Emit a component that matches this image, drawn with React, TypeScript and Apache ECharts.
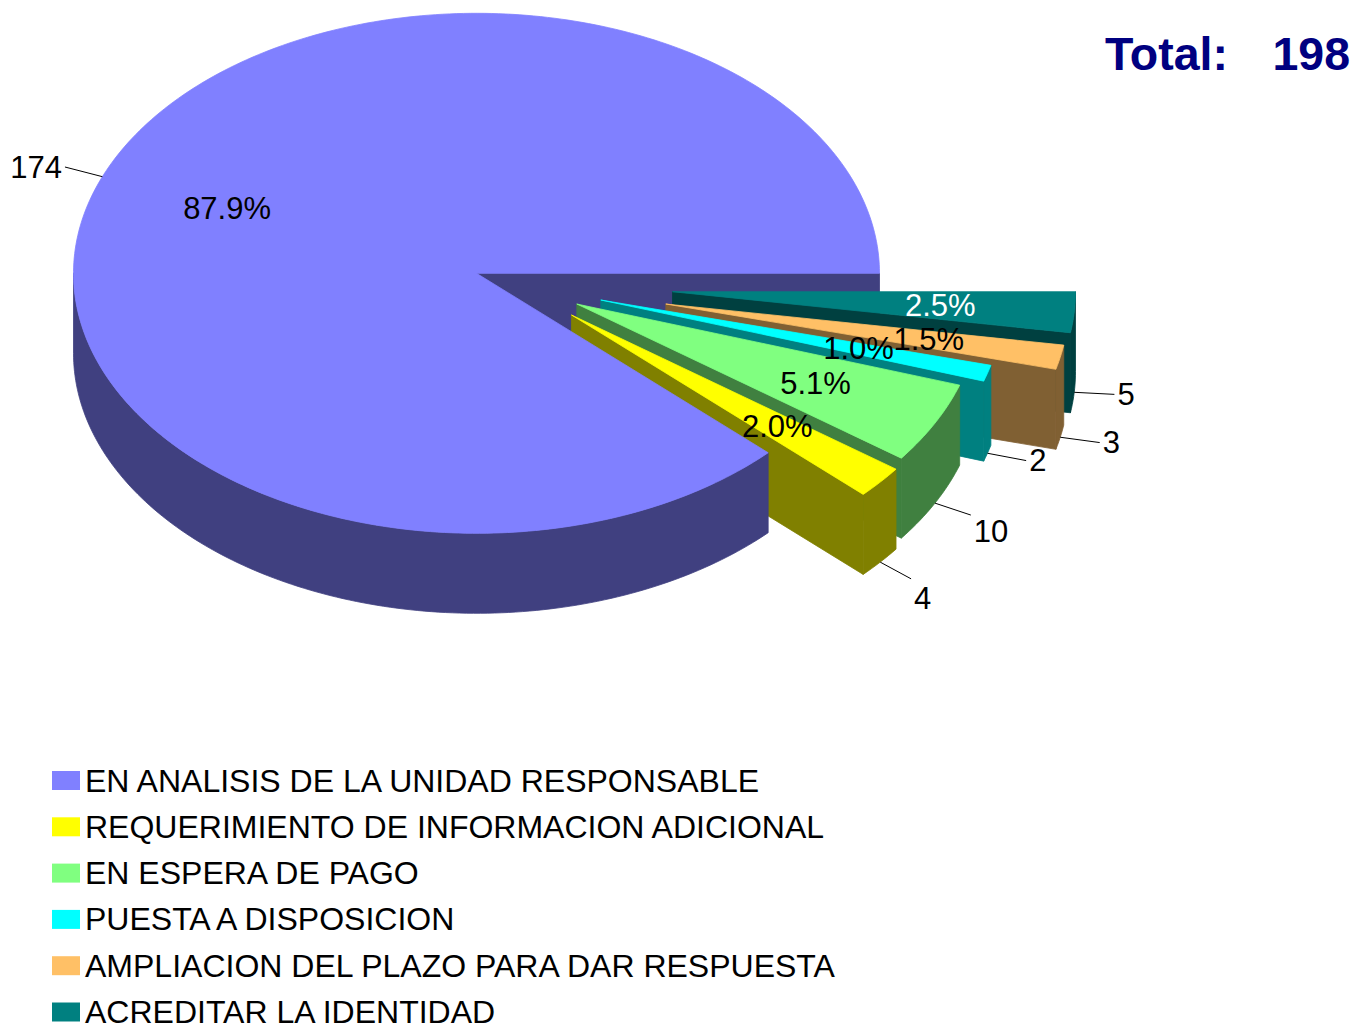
import React, { useEffect, useRef } from 'react';
import * as echarts from 'echarts';

// ---- data ----
const categories = [
  'EN ANALISIS DE LA UNIDAD RESPONSABLE',
  'REQUERIMIENTO DE INFORMACION ADICIONAL',
  'EN ESPERA DE PAGO',
  'PUESTA A DISPOSICION',
  'AMPLIACION DEL PLAZO PARA DAR RESPUESTA',
  'ACREDITAR LA IDENTIDAD',
];
const values = [174, 4, 10, 2, 3, 5];
const totalLabel = 'Total:';

// ---- styles ----
const topColors = ['#8080FF', '#FFFF00', '#80FF80', '#00FFFF', '#FFC066', '#008080'];
const sideColors = ['#404080', '#808000', '#408040', '#008080', '#806033', '#004040'];
const pctColors = ['#000000', '#000000', '#000000', '#000000', '#000000', '#FFFFFF'];
// per-slice explosion offset (px)
const explodeOffsets = [
  [0, 0],
  [95, 41.7],
  [100.3, 30.7],
  [124.3, 26.7],
  [189.3, 30.7],
  [196, 18.4],
];

const FONT = '"Liberation Sans", Arial, sans-serif';
const CX = 476.5;
const CY = 273.3;
const RX = 403;
const RY = 260;
const DEPTH = 80;
const LABEL_SIZE = 31;

const total = values.reduce((a, b) => a + b, 0);
const rad = (d: number) => (d * Math.PI) / 180;

function sliceAngles(i: number): [number, number] {
  let before = 0;
  for (let j = 0; j < i; j++) before += values[j];
  const end = 360 - (before / total) * 360;
  const start = end - (values[i] / total) * 360;
  return [start, end];
}

function P(ox: number, oy: number, t: number, r = 1, h = 0): number[] {
  return [ox + RX * r * Math.cos(rad(t)), oy + RY * r * Math.sin(rad(t)) + h];
}

function sample(a: number, b: number): number[] {
  const n = Math.max(2, Math.ceil(Math.abs(b - a) / 1) + 1);
  const out: number[] = [];
  for (let k = 0; k < n; k++) out.push(a + ((b - a) * k) / (n - 1));
  return out;
}

const meanY = (pts: number[][]) => pts.reduce((s, p) => s + p[1], 0) / pts.length;

function renderItem(params: any) {
  const i = params.seriesIndex;
  const [a0, a1] = sliceAngles(i);
  const ox = CX + explodeOffsets[i][0];
  const oy = CY + explodeOffsets[i][1];
  const top = topColors[i];
  const side = sideColors[i];
  const children: any[] = [];

  const poly = (points: number[][], fill: string, z2: number) => ({
    type: 'polygon',
    shape: { points },
    style: { fill, stroke: fill, lineWidth: 0.8, lineJoin: 'round' },
    z2,
  });

  // radial walls (only those facing the viewer)
  if (Math.cos(rad(a0)) < 0) {
    const pa = P(ox, oy, a0);
    const pts = [[ox, oy], pa, [pa[0], pa[1] + DEPTH], [ox, oy + DEPTH]];
    children.push(poly(pts, side, Math.round(meanY([[ox, oy], pa]))));
  }
  if (Math.cos(rad(a1)) > 0) {
    const pb = P(ox, oy, a1);
    const pts = [[ox, oy], pb, [pb[0], pb[1] + DEPTH], [ox, oy + DEPTH]];
    children.push(poly(pts, side, Math.round(meanY([[ox, oy], pb]))));
  }

  // outer curved side: visible where 0..180 (mod 360)
  const ranges = [
    [0, 180],
    [360, 540],
  ];
  for (const [r0, r1] of ranges) {
    const s = Math.max(a0, r0);
    const e = Math.min(a1, r1);
    if (e - s > 0.01) {
      const ts = sample(s, e);
      const upper = ts.map((t) => P(ox, oy, t));
      const lower = ts
        .slice()
        .reverse()
        .map((t) => P(ox, oy, t, 1, DEPTH));
      children.push(poly(upper.concat(lower), side, Math.round(meanY(upper))));
    }
  }

  // top face
  const arc = sample(a0, a1).map((t) => P(ox, oy, t));
  children.push(poly([[ox, oy]].concat(arc), top, 2000));

  // percentage label
  const mid = (a0 + a1) / 2;
  const pc = P(ox, oy, mid, 2 / 3);
  children.push({
    type: 'text',
    z2: 3000,
    style: {
      text: ((values[i] / total) * 100).toFixed(1) + '%',
      x: pc[0],
      y: pc[1],
      align: 'center',
      verticalAlign: 'middle',
      fontSize: LABEL_SIZE,
      fontFamily: FONT,
      fill: pctColors[i],
    },
  });

  // value label with leader line
  const s = Math.sin(rad(mid));
  const c = Math.cos(rad(mid));
  const h = s > 0 ? DEPTH : 0;
  const p1 = P(ox, oy, mid, 1, h);
  const p2 = P(ox, oy, mid, 1.1, h);
  children.push({
    type: 'line',
    z2: 3000,
    shape: { x1: p1[0], y1: p1[1], x2: p2[0], y2: p2[1] },
    style: { stroke: '#000000', lineWidth: 1 },
  });
  const right = c >= 0;
  children.push({
    type: 'text',
    z2: 3000,
    style: {
      text: String(values[i]),
      x: p2[0] + (right ? 3 : -3),
      y: p2[1] + (s > 0.4 ? 22 * s + 6 : 0),
      align: right ? 'left' : 'right',
      verticalAlign: 'middle',
      fontSize: LABEL_SIZE,
      fontFamily: FONT,
      fill: '#000000',
    },
  });

  return { type: 'group', children };
}

export default function App() {
  const ref = useRef<HTMLDivElement>(null);
  useEffect(() => {
    if (!ref.current) return;
    const chart = echarts.init(ref.current, undefined, { renderer: 'svg' });
    const series = categories.map((name, i) => ({
      type: 'custom',
      name,
      coordinateSystem: 'none',
      renderItem,
      itemStyle: { color: topColors[i] },
      data: [values[i]],
      silent: true,
    }));
    chart.setOption({
      animation: false,
      backgroundColor: '#FFFFFF',
      legend: {
        data: categories,
        orient: 'vertical',
        left: 52,
        top: 764.5,
        height: 400,
        padding: 0,
        icon: 'rect',
        itemWidth: 28,
        itemHeight: 19,
        itemGap: 14.3,
        selectedMode: false,
        textStyle: { fontSize: 32, lineHeight: 32, color: '#000000', fontFamily: FONT },
      },
      graphic: [
        {
          type: 'text',
          x: 1228,
          y: 54,
          style: {
            text: totalLabel,
            align: 'right',
            verticalAlign: 'middle',
            font: 'bold 46.5px ' + FONT,
            fill: '#000080',
          },
        },
        {
          type: 'text',
          x: 1350,
          y: 54,
          style: {
            text: String(total),
            align: 'right',
            verticalAlign: 'middle',
            font: 'bold 46.5px ' + FONT,
            fill: '#000080',
          },
        },
      ],
      series,
    });
    return () => chart.dispose();
  }, []);
  return (
    <div
      ref={ref}
      style={{ position: 'absolute', left: 0, top: 0, width: 1354, height: 1026 }}
    />
  );
}
